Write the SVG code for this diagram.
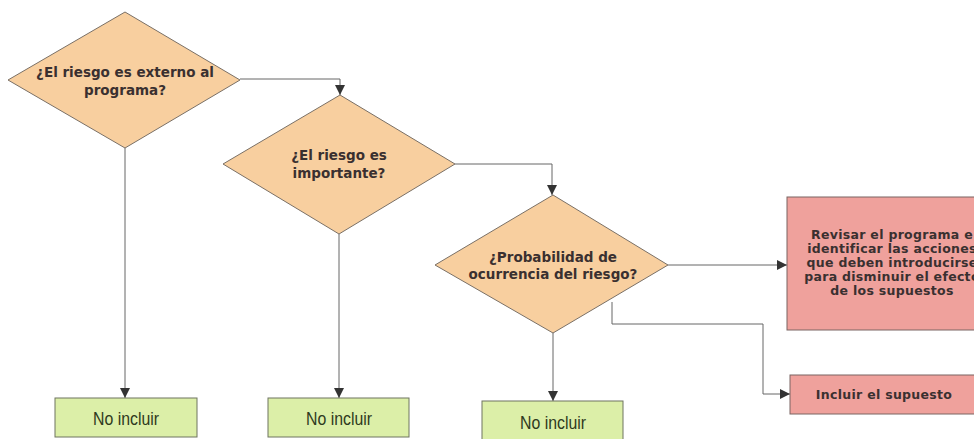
<svg xmlns="http://www.w3.org/2000/svg" width="974" height="439" viewBox="0 0 974 439">
<style>
.dia{fill:#F8CF9F;stroke:#7a7066;stroke-width:1}
.grn{fill:#DCEFA8;stroke:#6f7560;stroke-width:1}
.red{fill:#EFA19C;stroke:#7a6462;stroke-width:1}
.t{font-family:"DejaVu Sans",Verdana,sans-serif;font-weight:bold;font-size:13.5px;fill:#3a3030;text-anchor:middle}
.r{font-family:"DejaVu Sans",Verdana,sans-serif;font-weight:bold;font-size:12.5px;letter-spacing:0.3px;fill:#3a3030;text-anchor:middle}
.n{font-family:"Liberation Sans",Arial,sans-serif;font-size:18px;fill:#2f3a20;text-anchor:middle}
.c{fill:none;stroke:#666;stroke-width:1}
</style>
<defs>
<marker id="ah" viewBox="0 0 10 10" refX="10" refY="5" markerWidth="10" markerHeight="10" markerUnits="userSpaceOnUse" orient="auto">
<path d="M0,0 L10,5 L0,10 z" fill="#333"/>
</marker>
</defs>
<rect width="974" height="439" fill="#fff"/>
<g id="connectors">
<polyline class="c" points="240,79 340,79 340,95" marker-end="url(#ah)"/>
<polyline class="c" points="455,164 552,164 552,195" marker-end="url(#ah)"/>
<polyline class="c" points="668,265 787,265" marker-end="url(#ah)"/>
<polyline class="c" points="612,302 612,324 763,324 763,394 790,394" marker-end="url(#ah)"/>
<polyline class="c" points="125,148 125,398" marker-end="url(#ah)"/>
<polyline class="c" points="339,234 339,398" marker-end="url(#ah)"/>
<polyline class="c" points="553,333 553,401" marker-end="url(#ah)"/>
</g>
<g id="d1">
<polygon class="dia" points="125,12 240,80 125,148 8,80"/>
<text class="t" x="125" y="77">¿El riesgo es externo al</text>
<text class="t" x="125" y="95">programa?</text>
</g>
<g id="d2">
<polygon class="dia" points="340,95 455,164 339,234 223,164"/>
<text class="t" x="339" y="160">¿El riesgo es</text>
<text class="t" x="339" y="178">importante?</text>
</g>
<g id="d3">
<polygon class="dia" points="553,195 668,265 553,333 435,265"/>
<text class="t" x="553" y="262">¿Probabilidad de</text>
<text class="t" x="553" y="279">ocurrencia del riesgo?</text>
</g>
<g id="r1">
<rect class="red" x="787" y="197" width="210" height="133"/>
<text class="r" x="892" y="239">Revisar el programa e</text>
<text class="r" x="892" y="253">identificar las acciones</text>
<text class="r" x="892" y="267">que deben introducirse</text>
<text class="r" x="892" y="281">para disminuir el efecto</text>
<text class="r" x="892" y="295">de los supuestos</text>
</g>
<g id="r2">
<rect class="red" x="790" y="375" width="210" height="39"/>
<text class="r" x="884" y="399">Incluir el supuesto</text>
</g>
<g id="g1">
<rect class="grn" x="55" y="398" width="142" height="39"/>
<text class="n" transform="translate(126,425) scale(0.88,1)">No incluir</text>
</g>
<g id="g2">
<rect class="grn" x="268" y="398" width="141" height="39"/>
<text class="n" transform="translate(339,425) scale(0.88,1)">No incluir</text>
</g>
<g id="g3">
<rect class="grn" x="482" y="401" width="141" height="42"/>
<text class="n" transform="translate(553,429) scale(0.88,1)">No incluir</text>
</g>
</svg>
